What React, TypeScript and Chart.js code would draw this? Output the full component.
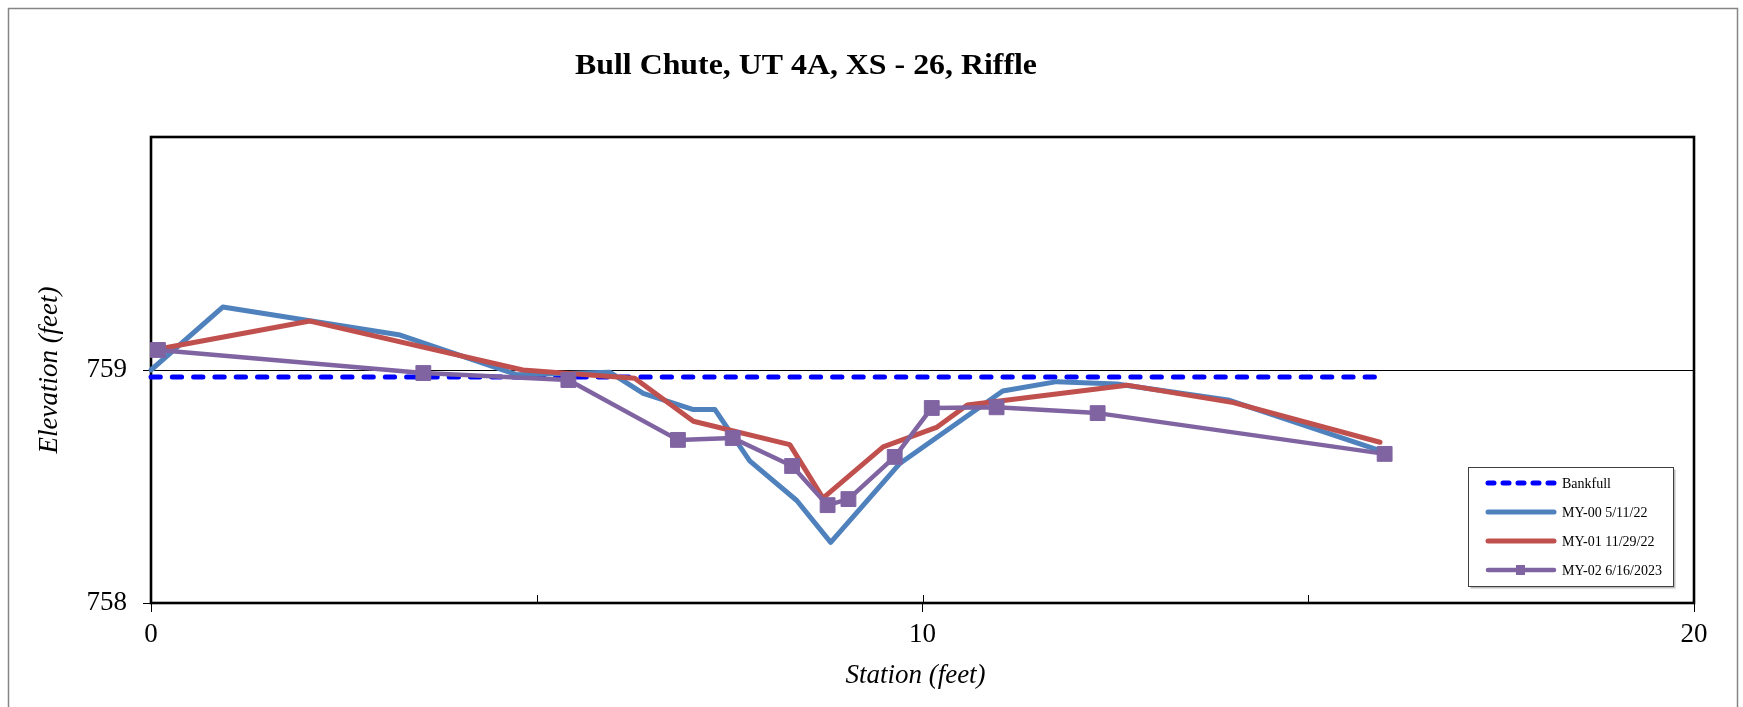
import React, { useEffect, useRef } from "react";
import { Chart, registerables } from "chart.js";

Chart.register(...registerables);

const chartTitle = "Bull Chute, UT 4A, XS - 26, Riffle";
const xAxisTitle = "Station (feet)";
const yAxisTitle = "Elevation (feet)";

const seriesNames = ["Bankfull", "MY-00 5/11/22", "MY-01 11/29/22", "MY-02 6/16/2023"];

const bankfullStation = [0, 15.9];
const bankfullElev = [758.97, 758.97];

const my00Station = [0, 0.93, 3.23, 4.74, 5.95, 6.38, 7.03, 7.31, 7.76, 8.37, 8.81, 9.71, 11.04, 11.74, 12.52, 13.98, 15.97];
const my00Elev = [759.0, 759.27, 759.15, 758.98, 758.99, 758.9, 758.83, 758.83, 758.61, 758.44, 758.26, 758.6, 758.91, 758.95, 758.94, 758.87, 758.65];

const my01Station = [0.1, 2.06, 4.82, 5.82, 6.27, 7.03, 8.28, 8.71, 9.49, 10.19, 10.58, 12.65, 14.03, 15.93];
const my01Elev = [759.09, 759.21, 759.0, 758.975, 758.965, 758.78, 758.68, 758.45, 758.67, 758.755, 758.85, 758.935, 758.86, 758.69];

const my02Station = [0.09, 3.53, 5.41, 6.83, 7.54, 8.31, 8.77, 9.04, 9.64, 10.12, 10.96, 12.27, 15.99];
const my02Elev = [759.086, 758.987, 758.957, 758.7, 758.708, 758.588, 758.42, 758.446, 758.627, 758.837, 758.84, 758.815, 758.64];

const xMin = 0;
const xMax = 20;
const xStep = 5;
const yMin = 758;
const yMax = 760;
const yStep = 1;

const FONT = "'Liberation Serif', 'Times New Roman', serif";

const toPoints = (xs: number[], ys: number[]) => xs.map((x, i) => ({ x, y: ys[i] }));

const decorPlugin = {
  id: "decor",
  beforeDraw(chart: any) {
    const ctx = chart.ctx;
    ctx.save();
    ctx.fillStyle = "#ffffff";
    ctx.fillRect(0, 0, chart.width, chart.height);
    // outer chart border
    ctx.strokeStyle = "#858585";
    ctx.lineWidth = 1.5;
    ctx.strokeRect(8.5, 8.5, 1729, 760);
    ctx.restore();
  },
  beforeDatasetsDraw(chart: any) {
    const ctx = chart.ctx;
    const a = chart.chartArea;
    const xs = chart.scales.x;
    ctx.save();
    ctx.strokeStyle = "#000";
    ctx.lineWidth = 1;
    // inside tick marks on the x axis
    for (let v = xMin + xStep; v < xMax; v += xStep) {
      const px = Math.round(xs.getPixelForValue(v)) + 0.5;
      ctx.beginPath();
      ctx.moveTo(px, a.bottom);
      ctx.lineTo(px, a.bottom - 8);
      ctx.stroke();
    }
    // plot frame
    ctx.lineWidth = 2.6;
    ctx.strokeRect(a.left, a.top, a.right - a.left, a.bottom - a.top);
    ctx.restore();
  },
  afterDraw(chart: any) {
    const ctx = chart.ctx;
    const a = chart.chartArea;
    ctx.save();
    // title
    ctx.fillStyle = "#000";
    ctx.font = `bold 29px ${FONT}`;
    ctx.textAlign = "center";
    ctx.textBaseline = "alphabetic";
    const w = ctx.measureText(chartTitle).width;
    const sx = 462 / w;
    ctx.save();
    ctx.translate(806, 74);
    ctx.scale(sx, 1);
    ctx.fillText(chartTitle, 0, 0);
    ctx.restore();

    // axis titles
    ctx.font = `italic 27px ${FONT}`;
    ctx.textBaseline = "middle";
    ctx.fillText(xAxisTitle, (a.left + a.right) / 2 - 7, 676);
    ctx.save();
    ctx.translate(50, (a.top + a.bottom) / 2);
    ctx.rotate(-Math.PI / 2);
    ctx.fillText(yAxisTitle, 0, 0);
    ctx.restore();

    // legend
    const bx = 1468.5, by = 467.5, bw = 205, bh = 119;
    ctx.fillStyle = "#bdbdbd";
    ctx.fillRect(bx + 2, by + 2, bw, bh);
    ctx.fillStyle = "#fff";
    ctx.fillRect(bx, by, bw, bh);
    ctx.strokeStyle = "#404040";
    ctx.lineWidth = 1;
    ctx.strokeRect(bx, by, bw, bh);

    const rows = [483, 512, 541, 570];
    const x0 = 1488, x1 = 1554;
    const dsets = chart.data.datasets;
    ctx.lineCap = "round";
    rows.forEach((ry, i) => {
      const ds = dsets[i];
      ctx.strokeStyle = ds.borderColor;
      ctx.lineWidth = ds.borderWidth;
      ctx.setLineDash(i === 0 ? [6, 9] : []);
      ctx.beginPath();
      ctx.moveTo(x0, ry);
      ctx.lineTo(x1, ry);
      ctx.stroke();
      ctx.setLineDash([]);
      if (i === 3) {
        ctx.fillStyle = ds.pointBackgroundColor;
        ctx.fillRect(1516, ry - 5, 9, 10);
      }
      ctx.fillStyle = "#000";
      ctx.font = `14px ${FONT}`;
      ctx.textAlign = "left";
      ctx.textBaseline = "middle";
      ctx.fillText(seriesNames[i], 1562, ry + 1);
    });
    ctx.restore();
  },
};

export default function App() {
  const canvasRef = useRef<HTMLCanvasElement | null>(null);

  useEffect(() => {
    if (!canvasRef.current) return;
    const chart = new Chart(canvasRef.current, {
      type: "line",
      data: {
        datasets: [
          {
            label: seriesNames[0],
            data: toPoints(bankfullStation, bankfullElev),
            borderColor: "#0000FF",
            borderWidth: 5,
            borderDash: [9.3, 12],
            borderCapStyle: "round",
            pointRadius: 0,
            fill: false,
            order: 4,
            clip: false,
          },
          {
            label: seriesNames[1],
            data: toPoints(my00Station, my00Elev),
            borderColor: "#4F81BD",
            borderWidth: 5,
            borderCapStyle: "round",
            borderJoinStyle: "round",
            pointRadius: 0,
            fill: false,
            order: 3,
            clip: false,
          },
          {
            label: seriesNames[2],
            data: toPoints(my01Station, my01Elev),
            borderColor: "#C0504D",
            borderWidth: 5,
            borderCapStyle: "round",
            borderJoinStyle: "round",
            pointRadius: 0,
            fill: false,
            order: 2,
            clip: false,
          },
          {
            label: seriesNames[3],
            data: toPoints(my02Station, my02Elev),
            borderColor: "#8064A2",
            borderWidth: 4.5,
            borderJoinStyle: "round",
            pointStyle: "rect",
            pointRadius: 10.5,
            pointBackgroundColor: "#8064A2",
            pointBorderColor: "#8064A2",
            pointBorderWidth: 1,
            fill: false,
            order: 1,
            clip: false,
          },
        ],
      },
      options: {
        responsive: false,
        animation: false,
        devicePixelRatio: 1,
        events: [],
        layout: { padding: { left: 0, top: 137, right: 49, bottom: 0 } },
        plugins: {
          legend: { display: false },
          title: { display: false },
          tooltip: { enabled: false },
        },
        scales: {
          x: {
            type: "linear",
            min: xMin,
            max: xMax,
            afterFit: (scale: any) => {
              scale.height = 104;
            },
            border: { display: false },
            grid: {
              drawOnChartArea: false,
              drawTicks: true,
              tickLength: 9,
              tickWidth: 1,
              tickColor: (c: any) => (c.tick && c.tick.value % 10 === 0 ? "#000" : "rgba(0,0,0,0)"),
            },
            ticks: {
              stepSize: xStep,
              autoSkip: false,
              maxRotation: 0,
              padding: 7,
              color: "#000",
              font: { family: FONT, size: 27 },
              callback: (v: any) => (Number(v) % 10 === 0 ? String(v) : ""),
            },
          },
          y: {
            type: "linear",
            min: yMin,
            max: yMax,
            afterFit: (scale: any) => {
              scale.width = 151;
            },
            border: { display: false },
            grid: {
              drawOnChartArea: true,
              drawTicks: true,
              tickLength: 8,
              lineWidth: 1,
              tickWidth: 1,
              color: (c: any) => (c.tick && c.tick.value === 759 ? "#000" : "rgba(0,0,0,0)"),
              tickColor: (c: any) => (c.tick && c.tick.value === yMax ? "rgba(0,0,0,0)" : "#000"),
            },
            ticks: {
              stepSize: yStep,
              padding: 16,
              color: "#000",
              font: { family: FONT, size: 27 },
              callback: (v: any) => (Number(v) === yMax ? "" : String(v)),
            },
          },
        },
      },
      plugins: [decorPlugin],
    } as any);
    return () => chart.destroy();
  }, []);

  return (
    <div style={{ position: "fixed", left: 0, top: 0, width: 1743, height: 707, background: "#fff" }}>
      <canvas ref={canvasRef} width={1743} height={707} style={{ display: "block" }} />
    </div>
  );
}
